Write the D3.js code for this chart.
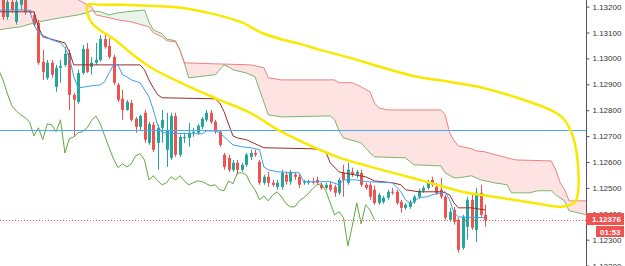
<!DOCTYPE html>
<html>
<head>
<meta charset="utf-8">
<script src="https://cdn.jsdelivr.net/npm/d3@7"></script>
<style>
  html, body { margin: 0; padding: 0; background: #fff; }
  svg { display: block; }
</style>
</head>
<body>
<svg id="chart" width="625" height="266"></svg>
<script>
// candles: [open, high, low, close], one per bar
const candles = [
  [1.13226,1.13240,1.13149,1.13160],[1.13160,1.13226,1.13149,1.13218],[1.13218,1.13226,1.13176,1.13187],
  [1.13141,1.13226,1.13130,1.13218],[1.13207,1.13240,1.13187,1.13226],[1.13226,1.13240,1.13168,1.13180],
  [1.13180,1.13187,1.13168,1.13176],[1.13168,1.13180,1.13122,1.13130],[1.13137,1.13149,1.12975,1.12983],
  [1.12987,1.13033,1.12917,1.12948],[1.12925,1.12994,1.12917,1.12983],[1.12983,1.12994,1.12925,1.12937],
  [1.12890,1.12975,1.12871,1.12964],[1.12964,1.12994,1.12906,1.12971],[1.12975,1.13045,1.12967,1.13018],
  [1.13021,1.13033,1.12801,1.12859],[1.12859,1.12867,1.12697,1.12840],[1.12832,1.12956,1.12825,1.12944],
  [1.12944,1.13052,1.12937,1.13037],[1.13037,1.13060,1.12944,1.12948],[1.12967,1.13006,1.12937,1.12983],
  [1.12983,1.13060,1.12975,1.12994],[1.12994,1.13091,1.12987,1.13075],[1.13075,1.13091,1.13037,1.13045],
  [1.13048,1.13079,1.12998,1.13006],[1.13006,1.13014,1.12898,1.12906],[1.12898,1.12906,1.12832,1.12840],
  [1.12844,1.12879,1.12763,1.12801],[1.12801,1.12840,1.12798,1.12832],[1.12828,1.12840,1.12755,1.12763],
  [1.12767,1.12774,1.12713,1.12736],[1.12736,1.12782,1.12724,1.12778],[1.12790,1.12801,1.12674,1.12686],
  [1.12674,1.12755,1.12666,1.12747],[1.12744,1.12755,1.12639,1.12647],[1.12674,1.12744,1.12570,1.12732],
  [1.12732,1.12801,1.12674,1.12763],[1.12647,1.12790,1.12581,1.12724],[1.12616,1.12790,1.12608,1.12778],
  [1.12778,1.12790,1.12620,1.12628],[1.12628,1.12705,1.12620,1.12697],[1.12693,1.12713,1.12674,1.12697],
  [1.12693,1.12751,1.12659,1.12713],[1.12713,1.12732,1.12697,1.12717],[1.12713,1.12747,1.12705,1.12740],
  [1.12736,1.12774,1.12728,1.12767],[1.12763,1.12801,1.12755,1.12790],[1.12790,1.12801,1.12747,1.12755],
  [1.12755,1.12763,1.12709,1.12717],[1.12717,1.12724,1.12659,1.12666],[1.12628,1.12635,1.12570,1.12581],
  [1.12616,1.12628,1.12562,1.12570],[1.12570,1.12608,1.12562,1.12597],[1.12597,1.12608,1.12551,1.12570],
  [1.12570,1.12597,1.12562,1.12589],[1.12589,1.12635,1.12581,1.12628],[1.12620,1.12647,1.12608,1.12635],
  [1.12635,1.12647,1.12620,1.12628],[1.12601,1.12608,1.12512,1.12520],[1.12520,1.12551,1.12512,1.12543],
  [1.12543,1.12562,1.12504,1.12520],[1.12520,1.12531,1.12504,1.12512],[1.12504,1.12531,1.12493,1.12520],
  [1.12504,1.12570,1.12493,1.12558],[1.12551,1.12562,1.12512,1.12524],[1.12524,1.12570,1.12512,1.12558],
  [1.12551,1.12562,1.12531,1.12543],[1.12543,1.12551,1.12500,1.12512],[1.12520,1.12531,1.12512,1.12524],
  [1.12520,1.12531,1.12512,1.12524],[1.12524,1.12539,1.12512,1.12520],[1.12531,1.12543,1.12512,1.12520],
  [1.12512,1.12520,1.12493,1.12500],[1.12500,1.12520,1.12493,1.12512],[1.12512,1.12524,1.12485,1.12493],
  [1.12504,1.12512,1.12466,1.12481],[1.12481,1.12539,1.12473,1.12531],[1.12558,1.12589,1.12466,1.12531],
  [1.12520,1.12597,1.12512,1.12570],[1.12562,1.12578,1.12543,1.12551],[1.12551,1.12570,1.12539,1.12562],
  [1.12558,1.12570,1.12504,1.12512],[1.12512,1.12520,1.12493,1.12500],[1.12512,1.12520,1.12454,1.12466],
  [1.12493,1.12508,1.12435,1.12442],[1.12442,1.12481,1.12435,1.12473],[1.12446,1.12469,1.12439,1.12462],
  [1.12462,1.12493,1.12454,1.12485],[1.12485,1.12500,1.12473,1.12481],[1.12485,1.12493,1.12435,1.12442],
  [1.12446,1.12454,1.12404,1.12423],[1.12423,1.12442,1.12415,1.12435],[1.12427,1.12454,1.12419,1.12446],
  [1.12446,1.12473,1.12439,1.12466],[1.12466,1.12497,1.12458,1.12489],[1.12489,1.12508,1.12481,1.12500],
  [1.12500,1.12531,1.12493,1.12524],[1.12531,1.12543,1.12504,1.12512],[1.12504,1.12520,1.12473,1.12481],
  [1.12493,1.12539,1.12458,1.12466],[1.12466,1.12473,1.12377,1.12385],[1.12377,1.12423,1.12369,1.12408],
  [1.12415,1.12427,1.12358,1.12369],[1.12377,1.12385,1.12250,1.12261],[1.12269,1.12396,1.12261,1.12388],
  [1.12350,1.12466,1.12300,1.12454],[1.12454,1.12473,1.12338,1.12346],[1.12338,1.12500,1.12292,1.12481],
  [1.12481,1.12512,1.12385,1.12396],[1.12396,1.12435,1.12350,1.12376]
];

// ichimoku lines as [bar, price] vertices
const tenkan = [
  [-1,1.13187],[6,1.13187],[7,1.13130],[8,1.13099],[11,1.13072],[13,1.13060],[14,1.13041],[15,1.13006],
  [16,1.12929],[17,1.12886],[20,1.12894],[22,1.12898],[23,1.12910],[24,1.12944],[25,1.12975],[26,1.12975],
  [27,1.12937],[28,1.12929],[29,1.12917],[31,1.12906],[33,1.12852],[34,1.12801],[35,1.12740],[36,1.12713],
  [42,1.12709],[45,1.12709],[46,1.12720],[48,1.12720],[49,1.12713],[51,1.12682],[52,1.12666],[54,1.12659],
  [56,1.12655],[58,1.12647],[59,1.12581],[60,1.12570],[62,1.12562],[67,1.12558],[68,1.12524],[74,1.12524],
  [76,1.12512],[77,1.12531],[80,1.12531],[82,1.12524],[88,1.12520],[89,1.12504],[90,1.12485],[91,1.12454],
  [92,1.12442],[93,1.12446],[94,1.12462],[96,1.12466],[97,1.12473],[100,1.12485],[101,1.12454],[102,1.12404],
  [103,1.12388],[109,1.12385]
];
const kijun = [
  [-1,1.13180],[7,1.13180],[8,1.13122],[9,1.13083],[14,1.13060],[15,1.13025],[16,1.12975],[31,1.12975],
  [32,1.12956],[33,1.12917],[34,1.12886],[35,1.12859],[36,1.12848],[48,1.12844],[49,1.12828],[50,1.12794],
  [51,1.12747],[52,1.12701],[53,1.12693],[55,1.12686],[59,1.12655],[70,1.12651],[72,1.12647],[73,1.12639],
  [74,1.12597],[76,1.12562],[77,1.12558],[82,1.12543],[84,1.12527],[88,1.12520],[90,1.12512],[91,1.12493],
  [94,1.12485],[99,1.12485],[100,1.12481],[101,1.12473],[102,1.12442],[103,1.12423],[106,1.12423],[109,1.12415]
];
const spanA = [
  [-1,1.13110],[2,1.13118],[4,1.13122],[7,1.13137],[8,1.13141],[13,1.13157],[17,1.13168],[19,1.13176],
  [20,1.13184],[22,1.13180],[24,1.13168],[26,1.13176],[28,1.13180],[32,1.13187],[33,1.13141],[34,1.13110],
  [36,1.13095],[37,1.13075],[39,1.13068],[40,1.13033],[41,1.12983],[42,1.12925],[48,1.12937],[50,1.12975],
  [51,1.12967],[52,1.12956],[55,1.12944],[57,1.12929],[58,1.12879],[60,1.12782],[63,1.12774],[74,1.12778],
  [75,1.12763],[76,1.12720],[77,1.12693],[81,1.12674],[83,1.12635],[84,1.12620],[91,1.12616],[93,1.12589],
  [99,1.12585],[100,1.12558],[102,1.12539],[103,1.12539],[106,1.12547],[108,1.12531],[111,1.12520],
  [114,1.12512],[115,1.12481],[119,1.12481],[121,1.12489],[124,1.12489],[125,1.12473],[127,1.12450],
  [128,1.12412],[132,1.12396]
];
const spanB = [
  [-1,1.13303],[16,1.13245],[17,1.13226],[20,1.13199],[21,1.13168],[24,1.13157],[26,1.13149],[29,1.13141],
  [33,1.13122],[34,1.13099],[36,1.13083],[37,1.13068],[39,1.13064],[40,1.13033],[41,1.12983],[48,1.12979],
  [56,1.12975],[59,1.12964],[60,1.12925],[63,1.12917],[75,1.12917],[76,1.12906],[79,1.12906],[81,1.12890],
  [83,1.12871],[84,1.12828],[85,1.12809],[87,1.12801],[99,1.12801],[100,1.12782],[101,1.12713],[102,1.12682],
  [103,1.12662],[106,1.12651],[107,1.12643],[109,1.12639],[114,1.12616],[116,1.12608],[124,1.12604],
  [125,1.12570],[126,1.12520],[127,1.12493],[128,1.12450],[132,1.12450]
];
// lagging span, one value per bar starting at bar -1
const chikouStart = -1;
const chikou = [
  1.12956,1.12917,1.12863,1.12817,1.12797,1.12782,1.12771,1.12755,1.12701,1.12732,1.12686,1.12747,1.12744,
  1.12717,1.12763,1.12635,1.12690,1.12697,1.12713,1.12717,1.12732,1.12759,1.12778,1.12747,1.12701,1.12655,
  1.12612,1.12578,1.12593,1.12581,1.12593,1.12624,1.12632,1.12608,1.12531,1.12547,1.12527,1.12512,1.12520,
  1.12543,1.12531,1.12547,1.12527,1.12512,1.12520,1.12527,1.12524,1.12516,1.12508,1.12512,1.12493,1.12489,
  1.12527,1.12516,1.12558,1.12558,1.12551,1.12516,1.12493,1.12454,1.12469,1.12450,1.12473,1.12485,1.12466,
  1.12439,1.12427,1.12427,1.12450,1.12462,1.12477,1.12497,1.12512,1.12516,1.12489,1.12442,1.12396,1.12408,
  1.12385,1.12276,1.12354,1.12442,1.12361,1.12435,1.12415,1.12377
];

// hand drawn yellow loop, [bar, price]
const yellowLoop = [
  [19.2,1.13207],[21.9,1.13207],[26.5,1.13207],[33.3,1.13203],[40.7,1.13195],[48.4,1.13168],[54.3,1.13137],
  [58.1,1.13102],[63.3,1.13072],[67.2,1.13056],[71.7,1.13033],[78.5,1.13002],[86.0,1.12964],[93.7,1.12929],
  [101.1,1.12909],[108.6,1.12886],[116.3,1.12848],[123.8,1.12801],[126.5,1.12771],[128.1,1.12732],
  [129.4,1.12666],[130.1,1.12570],[130.1,1.12493],[129.4,1.12446],[127.6,1.12431],[126.0,1.12427],
  [119.9,1.12442],[112.4,1.12462],[105.0,1.12481],[98.9,1.12508],[94.3,1.12531],[88.2,1.12558],
  [82.4,1.12585],[76.2,1.12616],[71.7,1.12647],[67.2,1.12682],[62.2,1.12724],[55.9,1.12790],[48.4,1.12844],
  [41.2,1.12898],[33.9,1.12960],[29.4,1.13014],[25.3,1.13072],[21.9,1.13110],[20.1,1.13137],[19.0,1.13180]
];

const levelLine = 1.12722;
const lastPrice = 1.12376;
const countdown = "01:53";
const yTicks = [1.132, 1.131, 1.130, 1.129, 1.128, 1.127, 1.126, 1.125, 1.124, 1.123, 1.122];

const W = 625, H = 266, plotRight = 586;
const upColor = "#26a69a", downColor = "#ef5350";

const x = d3.scaleLinear().domain([0, candles.length - 1]).range([3, 485]);
const y = d3.scaleLinear().domain([1.122, 1.132]).range([265.6, 6.6]);

const svg = d3.select("#chart");

svg.append("defs").append("clipPath").attr("id", "plot-clip")
  .append("rect").attr("x", 0).attr("y", 0).attr("width", plotRight).attr("height", H);

const plot = svg.append("g").attr("clip-path", "url(#plot-clip)");

const line = d3.line().x(d => x(d[0])).y(d => y(d[1]));

// cloud: polygon between span A and span B, split by which one is on top
const cloudPath = line(spanA) + "L" +
  spanB.slice().reverse().map(d => x(d[0]) + "," + y(d[1])).join("L") + "Z";
const bFirst = spanB[0], bLast = spanB[spanB.length - 1];
const aboveB = line(spanB) + `L${x(bLast[0])},-50L${x(bFirst[0])},-50Z`;
const belowB = line(spanB) + `L${x(bLast[0])},${H + 50}L${x(bFirst[0])},${H + 50}Z`;

const defs = svg.select("defs");
defs.append("clipPath").attr("id", "above-b").append("path").attr("d", aboveB);
defs.append("clipPath").attr("id", "below-b").append("path").attr("d", belowB);

plot.append("path").attr("d", cloudPath)
  .attr("clip-path", "url(#above-b)")
  .attr("fill", "rgba(76,175,80,0.13)");
plot.append("path").attr("d", cloudPath)
  .attr("clip-path", "url(#below-b)")
  .attr("fill", "rgba(244,67,54,0.14)");

plot.append("path").attr("d", line(spanA))
  .attr("fill", "none").attr("stroke", "#7bb56b").attr("stroke-width", 1);
plot.append("path").attr("d", line(spanB))
  .attr("fill", "none").attr("stroke", "#f08080").attr("stroke-width", 1);

// candles
const bars = plot.append("g");
candles.forEach((c, i) => {
  const [o, h, l, cl] = c;
  const col = cl >= o ? upColor : downColor;
  const cx = Math.round(x(i)) + 0.5;
  bars.append("line")
    .attr("x1", cx).attr("x2", cx)
    .attr("y1", y(h)).attr("y2", y(l))
    .attr("stroke", col).attr("stroke-width", 1);
  const top = y(Math.max(o, cl)), bot = y(Math.min(o, cl));
  bars.append("rect")
    .attr("x", cx - 1.5).attr("width", 3)
    .attr("y", top).attr("height", Math.max(1, bot - top))
    .attr("fill", col);
});

// lagging span
const chikouPts = chikou.map((v, i) => [chikouStart + i, v]);
plot.append("path").attr("d", line(chikouPts))
  .attr("fill", "none").attr("stroke", "#62a83f").attr("stroke-width", 1);

plot.append("path").attr("d", line(kijun))
  .attr("fill", "none").attr("stroke", "#952d2d").attr("stroke-width", 1);
plot.append("path").attr("d", line(tenkan))
  .attr("fill", "none").attr("stroke", "#3d9df0").attr("stroke-width", 1);

// horizontal level
plot.append("line")
  .attr("x1", 0).attr("x2", plotRight)
  .attr("y1", Math.round(y(levelLine)) + 0.5).attr("y2", Math.round(y(levelLine)) + 0.5)
  .attr("stroke", "#4aa8f5").attr("stroke-width", 1);

// yellow drawing
plot.append("path")
  .attr("d", d3.line().x(d => x(d[0])).y(d => y(d[1])).curve(d3.curveCatmullRomClosed)(yellowLoop))
  .attr("fill", "none").attr("stroke", "#f7ea00").attr("stroke-width", 2.5);

// last price dotted line
plot.append("line")
  .attr("x1", 0).attr("x2", plotRight)
  .attr("y1", Math.round(y(lastPrice)) + 0.5).attr("y2", Math.round(y(lastPrice)) + 0.5)
  .attr("stroke", "#ef5350").attr("stroke-width", 1).attr("stroke-dasharray", "1,2");

// price axis
const axis = d3.axisRight(y)
  .tickValues(yTicks)
  .tickFormat(d3.format(".5f"))
  .tickSize(3)
  .tickPadding(3);

const axisG = svg.append("g")
  .attr("transform", `translate(${plotRight + 0.5},0)`)
  .call(axis);
axisG.select(".domain").attr("stroke", "#50535e").attr("d", `M0,0V${H}`);
axisG.selectAll(".tick line").attr("stroke", "#50535e");
axisG.selectAll(".tick text")
  .attr("fill", "#333")
  .style("font-family", "'Liberation Sans', Arial, sans-serif")
  .style("font-size", "8px");

// current price label and countdown
const ly = y(lastPrice);
svg.append("rect")
  .attr("x", plotRight).attr("y", ly - 7).attr("width", 38).attr("height", 12)
  .attr("fill", "#ef5350");
svg.append("text")
  .attr("x", plotRight + 6).attr("y", ly + 2)
  .attr("fill", "#fff")
  .style("font-family", "'Liberation Sans', Arial, sans-serif")
  .style("font-size", "8px").style("font-weight", "bold")
  .text(d3.format(".5f")(lastPrice));
svg.append("rect")
  .attr("x", plotRight + 10).attr("y", ly + 6).attr("width", 28).attr("height", 11)
  .attr("fill", "#ef5350");
svg.append("text")
  .attr("x", plotRight + 14).attr("y", ly + 14.5)
  .attr("fill", "#fff")
  .style("font-family", "'Liberation Sans', Arial, sans-serif")
  .style("font-size", "8px").style("font-weight", "bold")
  .text(countdown);
</script>
</body>
</html>
